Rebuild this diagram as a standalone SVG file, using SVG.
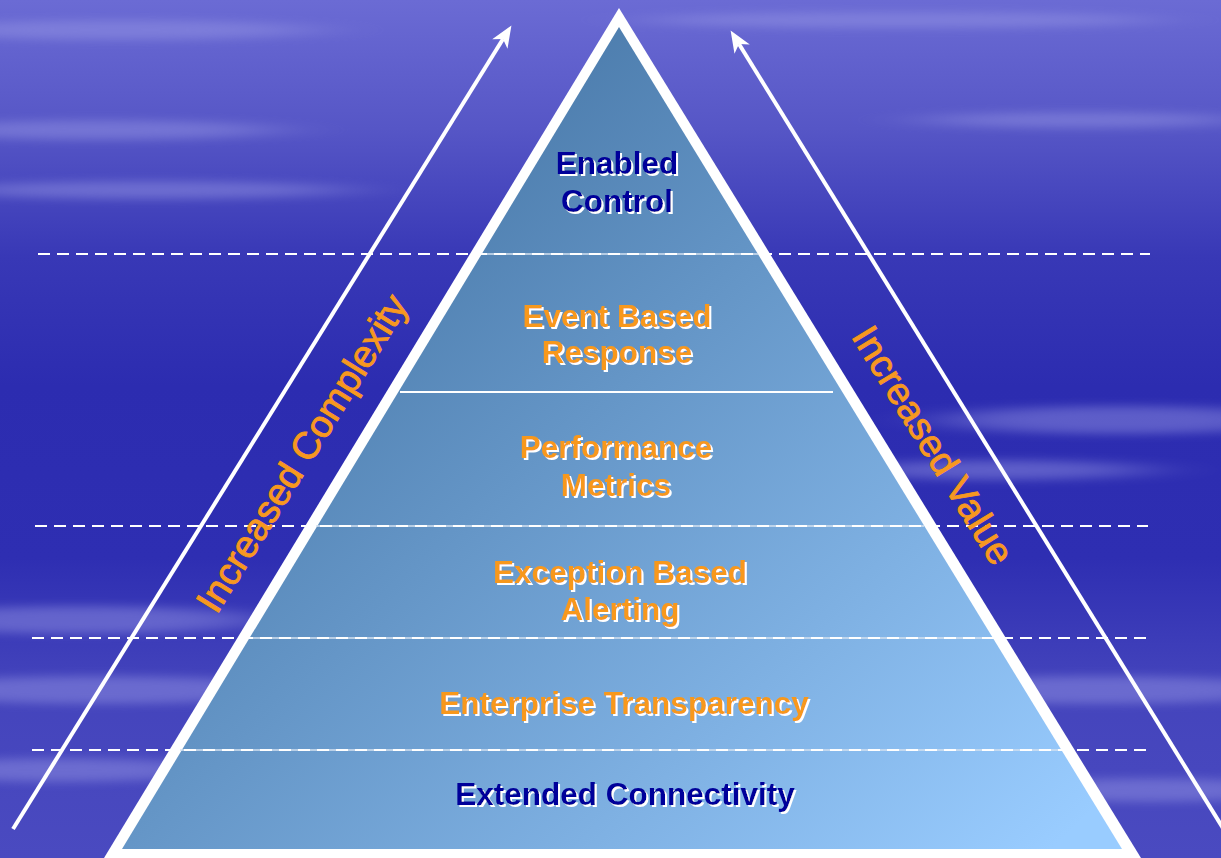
<svg xmlns="http://www.w3.org/2000/svg" width="1221" height="858" viewBox="0 0 1221 858">
<style>
.lbl{font-family:"Liberation Sans",Arial,sans-serif;font-weight:bold;font-size:31.5px;text-anchor:middle;filter:url(#ws)}
.or{fill:#f7981f}
.dk{fill:#00009a}
.side{font-family:"Liberation Sans",Arial,sans-serif;font-size:38px;fill:#f7981f;stroke:#f7981f;stroke-width:0.9;text-anchor:middle}
.dash{stroke:#ffffff;stroke-width:2;stroke-dasharray:12 7;fill:none}
.inner{stroke:#d4e2f0;stroke-width:1.6;fill:none}
.arr{stroke:#ffffff;stroke-width:4;fill:none;marker-end:url(#ah)}
</style>
<defs>
<linearGradient id="bg" x1="0" y1="0" x2="0" y2="1">
<stop offset="0" stop-color="#6b6bd4"/>
<stop offset="0.15" stop-color="#5656c6"/>
<stop offset="0.3" stop-color="#3838b6"/>
<stop offset="0.45" stop-color="#2c2cb0"/>
<stop offset="0.65" stop-color="#2e2eb2"/>
<stop offset="0.8" stop-color="#4444bc"/>
<stop offset="1" stop-color="#4a4ac0"/>
</linearGradient>
<linearGradient id="pg" gradientUnits="userSpaceOnUse" x1="400" y1="150" x2="1050" y2="850">
<stop offset="0" stop-color="#4a7aaa"/>
<stop offset="1" stop-color="#99ccff"/>
</linearGradient>
<filter id="blur" x="-50%" y="-50%" width="200%" height="200%"><feGaussianBlur stdDeviation="40 5"/></filter>
<filter id="ws" x="-10%" y="-30%" width="120%" height="160%">
<feOffset in="SourceAlpha" dx="2" dy="2" result="o"/>
<feFlood flood-color="#ffffff"/>
<feComposite in2="o" operator="in" result="s"/>
<feMerge><feMergeNode in="s"/><feMergeNode in="SourceGraphic"/></feMerge>
</filter>
<marker id="ah" markerUnits="userSpaceOnUse" markerWidth="30" markerHeight="24" viewBox="-12 -12 30 24" refX="0" refY="0" orient="auto">
<path d="M16,0 L-6,-9 L0,0 L-6,9 Z" fill="#ffffff"/>
</marker>
</defs>
<g id="background">
<rect width="1221" height="858" fill="url(#bg)"/>
<g filter="url(#blur)" fill="#9a9ae6" opacity="0.45">
<ellipse cx="120" cy="30" rx="200" ry="10"/>
<ellipse cx="900" cy="20" rx="260" ry="8"/>
<ellipse cx="100" cy="130" rx="180" ry="10"/>
<ellipse cx="150" cy="190" rx="200" ry="9"/>
<ellipse cx="1080" cy="120" rx="160" ry="8"/>
<ellipse cx="1120" cy="420" rx="180" ry="14"/>
<ellipse cx="1000" cy="470" rx="150" ry="10"/>
<ellipse cx="80" cy="620" rx="180" ry="14"/>
<ellipse cx="100" cy="690" rx="200" ry="14"/>
<ellipse cx="60" cy="770" rx="160" ry="12"/>
<ellipse cx="1100" cy="690" rx="200" ry="14"/>
<ellipse cx="1150" cy="790" rx="150" ry="12"/>
</g>
</g>
<g id="pyramid">
<polygon points="619,8 104,858 1141,858" fill="#ffffff"/>
<polygon points="619,27 122,849 1122,849" fill="url(#pg)"/>
</g>
<g id="connectors">
<line class="inner" x1="480" y1="254" x2="758" y2="254"/>
<line class="inner" x1="316" y1="526" x2="924" y2="526"/>
<line class="inner" x1="248" y1="638" x2="992" y2="638"/>
<line class="inner" x1="180" y1="750" x2="1060" y2="750"/>
<line class="dash" x1="38" y1="254" x2="1150" y2="254"/>
<line class="dash" x1="35" y1="526" x2="1148" y2="526"/>
<line class="dash" x1="32" y1="638" x2="1146" y2="638"/>
<line class="dash" x1="32" y1="750" x2="1146" y2="750"/>
<line x1="400" y1="392" x2="833" y2="392" stroke="#ffffff" stroke-width="2"/>
<line class="arr" x1="13" y1="829" x2="503" y2="39"/>
<line class="arr" x1="1226" y1="833" x2="739" y2="44"/>
</g>
<g id="node-enabled-control">
<text class="lbl dk" x="617" y="174">Enabled</text>
<text class="lbl dk" x="617" y="212">Control</text>
</g>
<g id="node-event-based-response">
<text class="lbl or" x="617" y="327">Event Based</text>
<text class="lbl or" x="617" y="363">Response</text>
</g>
<g id="node-performance-metrics">
<text class="lbl or" x="616" y="458">Performance</text>
<text class="lbl or" x="616" y="496">Metrics</text>
</g>
<g id="node-exception-based-alerting">
<text class="lbl or" x="620" y="583">Exception Based</text>
<text class="lbl or" x="620" y="620">Alerting</text>
</g>
<g id="node-enterprise-transparency">
<text class="lbl or" x="624" y="714">Enterprise Transparency</text>
</g>
<g id="node-extended-connectivity">
<text class="lbl dk" x="625" y="805">Extended Connectivity</text>
</g>
<g id="label-increased-complexity">
<text class="side" transform="translate(313,460) rotate(-58.2)">Increased Complexity</text>
</g>
<g id="label-increased-value">
<text class="side" transform="translate(922,452) rotate(58.4)">Increased Value</text>
</g>
</svg>
